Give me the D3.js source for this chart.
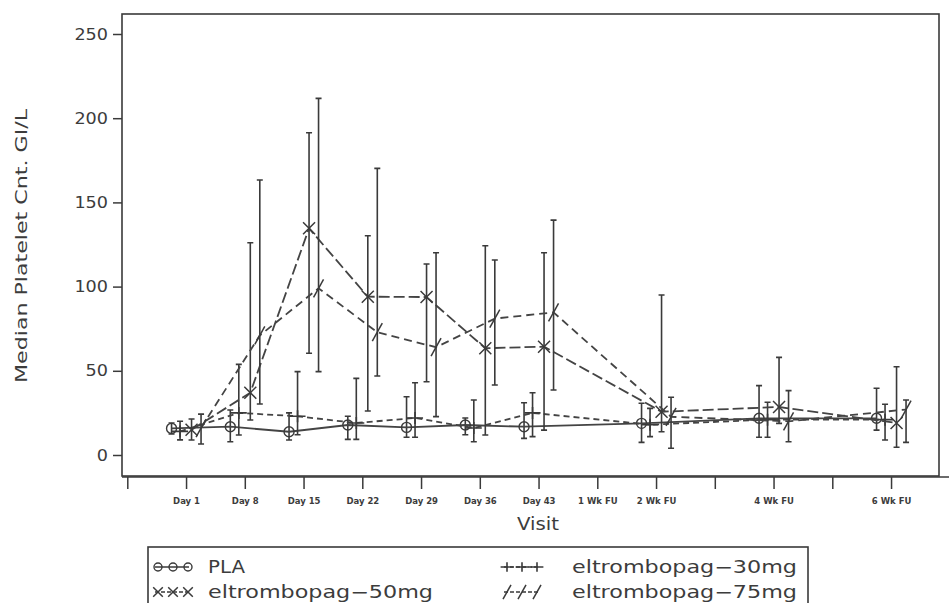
<!DOCTYPE html>
<html>
<head>
<meta charset="utf-8">
<script src="https://cdn.jsdelivr.net/npm/d3@7"></script>
<style>
  body { margin: 0; background: #fff; }
  text { font-family: "DejaVu Sans", sans-serif; fill: #3c3c3c; }
</style>
</head>
<body>
<div id="chart"></div>
<script>
// Visit tick labels (index = tick position)
const visitLabels = ["", "Day 1", "Day 8", "Day 15", "Day 22", "Day 29", "Day 36", "Day 43",
    "1 Wk FU", "2 Wk FU", "", "4 Wk FU", "", "6 Wk FU"];
// Visits that have data
const dataVisits = [1, 2, 3, 4, 5, 6, 7, 9, 11, 13];

const plaMed = [15.8, 16.8, 13.8, 17.8, 16.4, 17.8, 16.8, 18.8, 21.8, 21.8];
const plaLo = [12.5, 7.9, 8.9, 9.3, 10.5, 12, 9.9, 7.5, 10.5, 14.8];
const plaHi = [19, 26.7, 25, 23, 34.6, 22, 31, 30.7, 41.2, 39.6];

const mg30Med = [14, 25, 23, 19, 22, 16, 25, 18, 21, 21];
const mg30Lo = [9, 11.9, 12, 9.3, 10.5, 7.9, 10.9, 10.9, 10.5, 8.9];
const mg30Hi = [20, 53.8, 49.5, 45.5, 42.9, 32.7, 37, 27.7, 31.3, 30.1];

const mg50Med = [15, 37, 134.6, 94, 93.8, 63.4, 64.3, 25.7, 28.5, 19];
const mg50Lo = [8.9, 20.8, 60.4, 26.1, 43.5, 11.9, 14.8, 13.8, 18.8, 4.6];
const mg50Hi = [21.4, 126, 191.4, 130.2, 113.4, 124.3, 120.1, 95, 58, 52.4];

const mg75Med = [16, 71, 99, 72.9, 64, 81, 84.7, 22.7, 20, 27];
const mg75Lo = [6.5, 30.3, 49.5, 46.9, 22.8, 41.6, 38.6, 4, 7.9, 7.5];
const mg75Hi = [24.3, 163.3, 211.8, 170.2, 120.1, 115.8, 139.5, 34.3, 38.2, 32.7];

const yTicks = [0, 50, 100, 150, 200, 250];

const series = [
    { name: "PLA", med: plaMed, lo: plaLo, hi: plaHi, offset: -14.5, dash: null, marker: "circle" },
    { name: "eltrombopag\u221230mg", med: mg30Med, lo: mg30Lo, hi: mg30Hi, offset: -6, dash: "6,4", marker: "plus" },
    { name: "eltrombopag\u221250mg", med: mg50Med, lo: mg50Lo, hi: mg50Hi, offset: 5.5, dash: "11,4", marker: "cross" },
    { name: "eltrombopag\u221275mg", med: mg75Med, lo: mg75Lo, hi: mg75Hi, offset: 15, dash: "8,5", marker: "slash" }
];

const W = 949, H = 603;
const ink = "#3a3a3a";
const frame = { left: 122, top: 14, right: 939, bottom: 476 };

const svg = d3.select("#chart").append("svg")
    .attr("width", W)
    .attr("height", H);

const x = d3.scaleLinear().domain([0, 14]).range([127.3, 949.8]);
const y = d3.scaleLinear().domain([0, 250]).range([455, 34]);

// plot frame
svg.append("rect")
    .attr("x", frame.left)
    .attr("y", frame.top)
    .attr("width", frame.right - frame.left)
    .attr("height", frame.bottom - frame.top)
    .attr("fill", "none")
    .attr("stroke", ink)
    .attr("stroke-width", 1.6);

// y axis
const yAxis = svg.append("g")
    .attr("transform", `translate(${frame.left},0)`)
    .call(d3.axisLeft(y).tickValues(yTicks).tickSize(9).tickPadding(5).tickSizeOuter(0));
yAxis.select(".domain").remove();
yAxis.selectAll("line").attr("stroke", ink).attr("stroke-width", 1.5);
yAxis.selectAll("text")
    .style("font-size", "16px")
    .attr("fill", "#4a4a4a")
    .attr("textLength", d => String(d).length * 11.2)
    .attr("lengthAdjust", "spacingAndGlyphs");

// x axis
const xAxis = svg.append("g")
    .attr("transform", `translate(0,${frame.bottom + 1})`)
    .call(d3.axisBottom(x)
        .tickValues(d3.range(visitLabels.length))
        .tickFormat(i => visitLabels[i])
        .tickSize(12)
        .tickPadding(9)
        .tickSizeOuter(0));
xAxis.select(".domain")
    .attr("d", `M${frame.left},0H${W}`)
    .attr("stroke", ink)
    .attr("stroke-width", 1.5);
xAxis.selectAll("line").attr("stroke", ink).attr("stroke-width", 1.5);
xAxis.selectAll("text")
    .style("font-size", "8.5px")
    .style("font-weight", "bold")
    .attr("fill", "#444");

// axis titles
svg.append("text")
    .attr("transform", "translate(27,246) rotate(-90)")
    .attr("text-anchor", "middle")
    .style("font-size", "16px")
    .attr("fill", "#4a4a4a")
    .attr("textLength", 274)
    .attr("lengthAdjust", "spacingAndGlyphs")
    .text("Median Platelet Cnt. GI/L");

svg.append("text")
    .attr("x", 538)
    .attr("y", 530)
    .attr("text-anchor", "middle")
    .style("font-size", "17px")
    .attr("fill", "#4a4a4a")
    .attr("textLength", 42)
    .attr("lengthAdjust", "spacingAndGlyphs")
    .text("Visit");

// marker shapes
function drawMarker(g, type, cx, cy, s) {
    if (type === "circle") {
        g.append("circle").attr("cx", cx).attr("cy", cy).attr("r", 5 * s)
            .attr("fill", "none").attr("stroke", ink).attr("stroke-width", 1.4);
    } else if (type === "plus") {
        g.append("path")
            .attr("d", `M${cx - 8 * s},${cy}H${cx + 8 * s}M${cx},${cy - 6 * s}V${cy + 6 * s}`)
            .attr("stroke", ink).attr("stroke-width", 1.6);
    } else if (type === "cross") {
        const r = 6 * s;
        g.append("path")
            .attr("d", `M${cx - r},${cy - r}L${cx + r},${cy + r}M${cx - r},${cy + r}L${cx + r},${cy - r}`)
            .attr("stroke", ink).attr("stroke-width", 1.5);
    } else {
        g.append("path")
            .attr("d", `M${cx - 5 * s},${cy + 9 * s}L${cx + 5 * s},${cy - 9 * s}`)
            .attr("stroke", ink).attr("stroke-width", 1.5);
    }
}

const line = d3.line()
    .x(d => d.x)
    .y(d => d.y);

series.forEach(s => {
    const g = svg.append("g").attr("class", "series");
    const pts = dataVisits.map((v, i) => ({
        x: x(v) + s.offset,
        y: y(s.med[i]),
        lo: y(s.lo[i]),
        hi: y(s.hi[i])
    }));

    // error bars
    g.selectAll(".err")
        .data(pts)
        .join("path")
        .attr("class", "err")
        .attr("d", d => `M${d.x},${d.hi}V${d.lo}M${d.x - 3},${d.hi}H${d.x + 3}M${d.x - 3},${d.lo}H${d.x + 3}`)
        .attr("fill", "none")
        .attr("stroke", ink)
        .attr("stroke-width", 1.6);

    // median line
    g.append("path")
        .datum(pts)
        .attr("d", line)
        .attr("fill", "none")
        .attr("stroke", "#444")
        .attr("stroke-width", 1.8)
        .attr("stroke-dasharray", s.dash);

    pts.forEach(p => drawMarker(g, s.marker, p.x, p.y, 1));
});

// legend
svg.append("rect")
    .attr("x", 148)
    .attr("y", 547)
    .attr("width", 660)
    .attr("height", 80)
    .attr("fill", "none")
    .attr("stroke", ink)
    .attr("stroke-width", 1.6);

const legendPos = [
    { sx: 155, tx: 208, ty: 567 },
    { sx: 504, tx: 572, ty: 567 },
    { sx: 155, tx: 208, ty: 592 },
    { sx: 504, tx: 572, ty: 592 }
];
// order in legend: PLA, 30mg, 50mg, 75mg
series.forEach((s, i) => {
    const p = legendPos[i];
    const g = svg.append("g");
    g.append("path")
        .attr("d", `M${p.sx},${p.ty}H${p.sx + 34}`)
        .attr("stroke", ink)
        .attr("stroke-width", 1.5)
        .attr("stroke-dasharray", s.dash ? "4,2" : null);
    [0, 15, 30].forEach(dx => drawMarker(g, s.marker, p.sx + 3 + dx, p.ty, 0.8));
    g.append("text")
        .attr("x", p.tx)
        .attr("y", p.ty + 6)
        .style("font-size", "17px")
        .attr("fill", "#4a4a4a")
        .attr("textLength", s.name === "PLA" ? 37 : 225)
        .attr("lengthAdjust", "spacingAndGlyphs")
        .text(s.name);
});
</script>
</body>
</html>
